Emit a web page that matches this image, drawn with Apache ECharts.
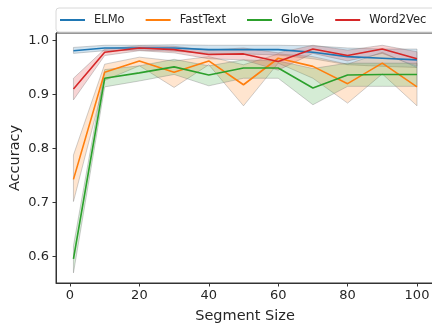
<!DOCTYPE html>
<html>
<head>
<meta charset="utf-8">
<script src="https://cdn.jsdelivr.net/npm/echarts@6/dist/echarts.min.js"></script>
<style>
  html, body { margin: 0; padding: 0; background: #fff; }
  #chart { width: 432px; height: 328px; }
</style>
</head>
<body>
<div id="chart"></div>
<script>
// segment sizes on the x axis
const segSizes = [1, 10, 20, 30, 40, 50, 60, 70, 80, 90, 100]
const xTicks = [0, 20, 40, 60, 80, 100]
const yTicks = [0.6, 0.7, 0.8, 0.9, 1.0]

// mean accuracy + band (lower / upper)
const elmo = [0.981, 0.986, 0.986, 0.986, 0.983, 0.983, 0.983, 0.978, 0.970, 0.967, 0.964]
const elmoLo = [0.976, 0.981, 0.982, 0.980, 0.976, 0.975, 0.973, 0.966, 0.955, 0.952, 0.950]
const elmoHi = [0.987, 0.991, 0.991, 0.992, 0.991, 0.991, 0.991, 0.990, 0.986, 0.984, 0.984]

const fastText = [0.743, 0.941, 0.962, 0.941, 0.962, 0.918, 0.967, 0.952, 0.920, 0.958, 0.914]
const fastTextLo = [0.702, 0.926, 0.953, 0.913, 0.955, 0.879, 0.958, 0.930, 0.884, 0.938, 0.879]
const fastTextHi = [0.788, 0.956, 0.969, 0.962, 0.970, 0.955, 0.975, 0.970, 0.956, 0.978, 0.950]

const glove = [0.596, 0.930, 0.940, 0.951, 0.936, 0.949, 0.949, 0.912, 0.936, 0.937, 0.937]
const gloveLo = [0.570, 0.914, 0.925, 0.937, 0.916, 0.930, 0.930, 0.881, 0.915, 0.915, 0.915]
const gloveHi = [0.620, 0.946, 0.953, 0.965, 0.953, 0.964, 0.962, 0.948, 0.958, 0.958, 0.958]

const word2vec = [0.910, 0.978, 0.986, 0.983, 0.974, 0.975, 0.961, 0.984, 0.972, 0.984, 0.966]
const word2vecLo = [0.890, 0.972, 0.981, 0.977, 0.966, 0.964, 0.945, 0.976, 0.962, 0.976, 0.952]
const word2vecHi = [0.930, 0.984, 0.990, 0.989, 0.982, 0.986, 0.977, 0.991, 0.982, 0.991, 0.979]

const models = [
  { name: 'ELMo', color: '#1f77b4', mean: elmo, lo: elmoLo, hi: elmoHi },
  { name: 'FastText', color: '#ff7f0e', mean: fastText, lo: fastTextLo, hi: fastTextHi },
  { name: 'GloVe', color: '#2ca02c', mean: glove, lo: gloveLo, hi: gloveHi },
  { name: 'Word2Vec', color: '#d62728', mean: word2vec, lo: word2vecLo, hi: word2vecHi }
]

const font = 'DejaVu Sans'
const chart = echarts.init(document.getElementById('chart'))

// shaded band as a polygon, coords come from the axes
function bandSeries(m, idx) {
  return {
    name: m.name + ' band',
    type: 'custom',
    clip: true,
    z: 1 + idx,
    silent: true,
    data: [[segSizes[0], m.lo[0]]],
    renderItem(params, api) {
      const top = segSizes.map((x, i) => api.coord([x, m.hi[i]]))
      const bottom = segSizes.map((x, i) => api.coord([x, m.lo[i]])).reverse()
      return {
        type: 'polygon',
        shape: { points: top.concat(bottom) },
        style: {
          fill: echarts.color.modifyAlpha(m.color, 0.2),
          stroke: 'rgba(120,120,120,0.35)',
          lineWidth: 1
        }
      }
    }
  }
}

function lineSeries(m, idx) {
  return {
    name: m.name,
    type: 'line',
    z: 10 + idx,
    data: segSizes.map((x, i) => [x, m.mean[i]]),
    showSymbol: false,
    symbol: 'none',
    lineStyle: { color: m.color, width: 1.6 },
    itemStyle: { color: m.color }
  }
}

chart.setOption({
  animation: false,
  textStyle: { fontFamily: font },
  legend: {
    data: models.map(m => m.name),
    left: 56,
    top: 8,
    width: 420,
    icon: 'rect',
    itemWidth: 25,
    itemHeight: 2,
    itemGap: 21,
    padding: [6, 16, 6, 4],
    borderColor: '#d8d8d8',
    borderWidth: 1,
    borderRadius: 3,
    textStyle: { fontFamily: font, fontSize: 11.5, color: '#262626', padding: [0, 0, 0, 4] }
  },
  grid: {
    left: 56,
    top: 33,
    right: -2,
    bottom: 45,
    outerBoundsMode: 'none',
    containLabel: false,
    show: true,
    borderColor: '#333',
    borderWidth: 1
  },
  xAxis: {
    type: 'value',
    min: -4.03,
    max: 104.9,
    name: 'Segment Size',
    nameLocation: 'middle',
    nameGap: 26,
    nameMoveOverlap: false,
    nameTextStyle: { fontFamily: font, fontSize: 14.5, color: '#262626' },
    axisLine: { onZero: false, lineStyle: { color: '#333' } },
    axisTick: { length: 3.5, customValues: xTicks, lineStyle: { color: '#333' } },
    axisLabel: { customValues: xTicks, margin: 6, fontFamily: font, fontSize: 13, color: '#262626' },
    splitLine: { show: false }
  },
  yAxis: {
    type: 'value',
    min: 0.5513,
    max: 1.0137,
    name: 'Accuracy',
    nameLocation: 'middle',
    nameGap: 33,
    nameMoveOverlap: false,
    nameTextStyle: { fontFamily: font, fontSize: 14.5, color: '#262626' },
    axisLine: { show: true, onZero: false, lineStyle: { color: '#333' } },
    axisTick: { show: true, length: 3.5, customValues: yTicks, lineStyle: { color: '#333' } },
    axisLabel: {
      customValues: yTicks,
      margin: 7,
      fontFamily: font,
      fontSize: 13,
      color: '#262626',
      formatter: v => v.toFixed(1)
    },
    splitLine: { show: false }
  },
  series: models.map(bandSeries).concat(models.map(lineSeries))
})
</script>
</body>
</html>
